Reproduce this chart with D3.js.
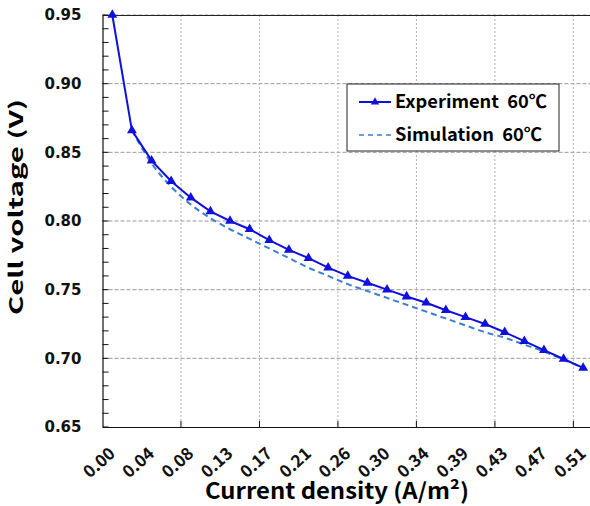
<!DOCTYPE html>
<html>
<head>
<meta charset="utf-8">
<script src="https://cdn.jsdelivr.net/npm/d3@7"></script>
<style>
  body { margin: 0; background: #fff; }
  text { white-space: pre; }
</style>
</head>
<body>
<div id="my_dataviz"></div>
<script>
// categories on the x axis (only every other one is labelled)
var categories = ["0.00","0.02","0.04","0.06","0.08","0.11","0.13","0.15","0.17","0.19",
                  "0.21","0.23","0.26","0.28","0.30","0.32","0.34","0.36","0.39","0.40",
                  "0.43","0.45","0.47","0.49","0.51"];

var experiment = [0.950, 0.866, 0.844, 0.829, 0.817, 0.807, 0.800, 0.794, 0.786, 0.779,
                  0.773, 0.766, 0.760, 0.755, 0.750, 0.745, 0.7405, 0.735, 0.730, 0.725,
                  0.719, 0.7125, 0.706, 0.6995, 0.693];

var simulation = [null, 0.866, 0.842, 0.825, 0.812, 0.802, 0.794, 0.787, 0.780, 0.773,
                  0.766, 0.760, 0.754, 0.749, 0.744, 0.739, 0.734, 0.729, 0.724, 0.719,
                  0.715, 0.710, 0.705, 0.699, 0.693];

var yTicks = [0.65, 0.70, 0.75, 0.80, 0.85, 0.90, 0.95];

// set the dimensions and margins of the graph
var margin = {top: 15, right: -3, bottom: 79, left: 102.5},
    width = 590 - margin.left - margin.right,
    height = 506 - margin.top - margin.bottom;

var svg = d3.select("#my_dataviz")
  .append("svg")
    .attr("width", 590)
    .attr("height", 506)
  .append("g")
    .attr("transform", "translate(" + margin.left + "," + margin.top + ")");

var x = d3.scaleBand()
  .domain(categories)
  .range([0, width]);

var y = d3.scaleLinear()
  .domain([0.65, 0.95])
  .range([height, 0]);

var cx = function(i) { return x(categories[i]) + x.bandwidth() / 2; };

// horizontal grid
svg.append("g")
  .selectAll("line")
  .data(yTicks.slice(1))
  .enter().append("line")
    .attr("x1", 0).attr("x2", width)
    .attr("y1", function(d) { return y(d); })
    .attr("y2", function(d) { return y(d); })
    .attr("stroke", "#9a9a9a")
    .attr("stroke-dasharray", "4,2");

// vertical grid at every 4th category boundary
var vGrid = categories.filter(function(d, i) { return i > 0 && i % 4 == 0; });
svg.append("g")
  .selectAll("line")
  .data(vGrid)
  .enter().append("line")
    .attr("x1", function(d) { return x(d); })
    .attr("x2", function(d) { return x(d); })
    .attr("y1", 0).attr("y2", height)
    .attr("stroke", "#b0b0b0")
    .attr("stroke-dasharray", "2,2");

// top border
svg.append("line")
  .attr("x1", 0).attr("x2", width)
  .attr("y1", 0.5).attr("y2", 0.5)
  .attr("stroke", "#222");

// Y axis
var yAxis = svg.append("g")
  .call(d3.axisLeft(y).tickValues(yTicks).tickFormat(d3.format(".2f")).tickSize(0).tickPadding(21));
yAxis.select(".domain").attr("stroke", "#111").attr("stroke-width", 1.2);
yAxis.selectAll("text")
  .style("font-family", "DejaVu Sans")
  .style("font-weight", "bold")
  .style("font-size", "15px")
  .attr("fill", "#111");

// minor ticks on y, pointing inward
svg.append("g")
  .selectAll("line")
  .data(d3.range(0, 31).map(function(i) { return 0.65 + i * 0.01; }))
  .enter().append("line")
    .attr("x1", 0).attr("x2", 6)
    .attr("y1", function(d) { return y(d); })
    .attr("y2", function(d) { return y(d); })
    .attr("stroke", "#111");

// X axis
var xAxis = svg.append("g")
  .attr("transform", "translate(0," + height + ")")
  .call(d3.axisBottom(x)
    .tickValues(categories.filter(function(d, i) { return i % 2 == 0; }))
    .tickSize(0).tickPadding(0));
xAxis.select(".domain").attr("stroke", "#111").attr("stroke-width", 1.2);
xAxis.selectAll("text")
  .style("font-family", "Noto Sans CJK KR")
  .style("font-weight", "bold")
  .style("font-size", "17px")
  .attr("fill", "#111")
  .attr("text-anchor", "end")
  .attr("dy", 0)
  .attr("y", 0)
  .attr("transform", "translate(4,28) rotate(-42)");

// x ticks (inward) at the grid positions
svg.append("g")
  .selectAll("line")
  .data(vGrid)
  .enter().append("line")
    .attr("x1", function(d) { return x(d); })
    .attr("x2", function(d) { return x(d); })
    .attr("y1", height).attr("y2", height - 6)
    .attr("stroke", "#111");

// simulation line (dashed)
var simLine = d3.line()
  .defined(function(d) { return d != null; })
  .x(function(d, i) { return cx(i); })
  .y(function(d) { return y(d); })
  .curve(d3.curveMonotoneX);

svg.append("path")
  .datum(simulation)
  .attr("fill", "none")
  .attr("stroke", "#3a7fd5")
  .attr("stroke-width", 2)
  .attr("stroke-dasharray", "6,4")
  .attr("d", simLine);

// experiment line
var expLine = d3.line()
  .x(function(d, i) { return cx(i); })
  .y(function(d) { return y(d); });

svg.append("path")
  .datum(experiment)
  .attr("fill", "none")
  .attr("stroke", "#1010dd")
  .attr("stroke-width", 2)
  .attr("d", expLine);

svg.append("g")
  .selectAll("path")
  .data(experiment)
  .enter().append("path")
    .attr("transform", function(d, i) { return "translate(" + cx(i) + "," + y(d) + ")"; })
    .attr("d", d3.symbol().type(d3.symbolTriangle).size(42))
    .attr("fill", "#1010dd");

// legend
var lg = svg.append("g").attr("transform", "translate(" + (347 - margin.left) + "," + (84 - margin.top) + ")");
lg.append("rect")
  .attr("width", 212).attr("height", 67)
  .attr("fill", "#fff").attr("stroke", "#222");

lg.append("line")
  .attr("x1", 12).attr("x2", 44).attr("y1", 18).attr("y2", 18)
  .attr("stroke", "#1010dd").attr("stroke-width", 2);
lg.append("path")
  .attr("transform", "translate(28,18)")
  .attr("d", d3.symbol().type(d3.symbolTriangle).size(30))
  .attr("fill", "#1010dd");
lg.append("line")
  .attr("x1", 12).attr("x2", 44).attr("y1", 51).attr("y2", 51)
  .attr("stroke", "#3a7fd5").attr("stroke-width", 1.5)
  .attr("stroke-dasharray", "5,4");

lg.append("text")
  .attr("x", 48).attr("y", 24)
  .attr("textLength", 152).attr("lengthAdjust", "spacingAndGlyphs")
  .text("Experiment  60\u2103")
  .style("font-family", "Noto Sans CJK KR")
  .style("font-weight", "bold")
  .style("font-size", "18px");
lg.append("text")
  .attr("x", 48).attr("y", 57)
  .attr("textLength", 147).attr("lengthAdjust", "spacingAndGlyphs")
  .text("Simulation  60\u2103")
  .style("font-family", "Noto Sans CJK KR")
  .style("font-weight", "bold")
  .style("font-size", "18px");

// axis titles
svg.append("text")
  .attr("text-anchor", "middle")
  .attr("transform", "translate(" + (23 - margin.left) + "," + (207 - margin.top) + ") rotate(-90)")
  .attr("textLength", 216).attr("lengthAdjust", "spacingAndGlyphs")
  .style("font-family", "Noto Sans CJK KR")
  .style("font-weight", "bold")
  .style("font-size", "19px")
  .text("Cell voltage (V)");

svg.append("text")
  .attr("text-anchor", "middle")
  .attr("x", 337 - margin.left)
  .attr("y", 499 - margin.top)
  .attr("textLength", 264).attr("lengthAdjust", "spacingAndGlyphs")
  .style("font-family", "Noto Sans CJK KR")
  .style("font-weight", "bold")
  .style("font-size", "22px")
  .text("Current density (A/m\u00B2)");
</script>
</body>
</html>
